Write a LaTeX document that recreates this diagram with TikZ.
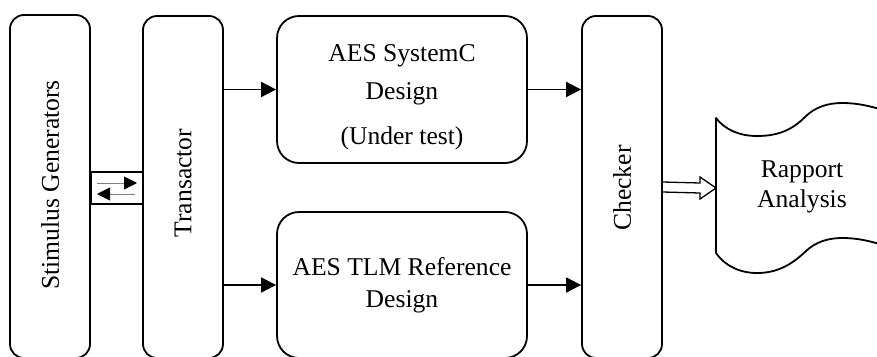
\documentclass[tikz,border=0pt]{standalone}
\usepackage{fontspec}
\setmainfont{Liberation Serif}
\usetikzlibrary{arrows.meta,calc}
\begin{document}
\begin{tikzpicture}[x=1pt,y=-1pt,
  blk/.style={draw,line width=1.8pt,rounded corners=14pt,inner sep=0pt},
  bigblk/.style={draw,line width=1.8pt,rounded corners=22pt,inner sep=0pt},
  lbl/.style={font=\fontsize{25.6}{30}\selectfont,align=center,inner sep=0pt},
  arr/.style={line width=1.8pt,-{Triangle[length=15pt,width=15pt]}},
  xarr/.style={line width=0.9pt,draw=gray,-{Triangle[length=13pt,width=13pt,color=black,fill=black]}}
]
\useasboundingbox (0,0) rectangle (877,356);
\clip (0,0) rectangle (877,356);

% tall blocks
\node[blk,minimum width=80pt,minimum height=343pt] (stim) at (50,186.5) {};
\node[lbl,rotate=90] (stimt) at (50,185) {Stimulus Generators};
\node[blk,minimum width=80pt,minimum height=342pt] (trans) at (183,187) {};
\node[lbl,rotate=90] (transt) at (183,183) {Transactor};
\node[blk,minimum width=80pt,minimum height=342pt] (chk) at (622,187) {};
\node[lbl,rotate=90] (chkt) at (622,188) {Checker};

% design blocks
\node[bigblk,minimum width=250pt,minimum height=147pt] (sysc) at (402,89.5) {};
\node[lbl,font=\fontsize{25.6}{38}\selectfont] (sysct) at (402,97) {AES SystemC\\Design\\[7pt](Under test)};
\node[bigblk,minimum width=250pt,minimum height=146pt] (tlm) at (402,285) {};
\node[lbl,font=\fontsize{25.6}{32}\selectfont] (tlmt) at (402,285) {AES TLM Reference\\Design};

% exchange box
\node[draw,line width=1.6pt,minimum width=52pt,minimum height=32pt,inner sep=0pt] (xbox) at (117,188) {};
\coordinate (xa1) at (97,183);
\coordinate (xa2) at (137,183);
\coordinate (xb1) at (135,194);
\coordinate (xb2) at (97,194);
\draw[xarr] (xa1) -- (xa2);
\draw[xarr] (xb1) -- (xb2);

% connectors
\draw[arr] (trans.east |- sysc.west) -- (sysc.west);
\draw[arr] (trans.east |- tlm.west) -- (tlm.west);
\draw[arr] (sysc.east) -- (sysc.east -| chk.west);
\draw[arr] (tlm.east) -- (tlm.east -| chk.west);

% report shape
\draw[line width=1.8pt,line join=round] (716,253) -- (716,118)
  .. controls (725,130) and (740,136) .. (757,136)
  .. controls (778,136) and (792,130) .. (805,117)
  .. controls (815,107) and (828,103) .. (842,103)
  .. controls (858,103) and (870,106) .. (890,112)
  -- (890,247)
  .. controls (870,241) and (858,238) .. (842,238)
  .. controls (828,238) and (815,242) .. (805,252)
  .. controls (792,264) and (778,273) .. (757,273)
  .. controls (740,273) and (725,266) .. (716,253) -- cycle;
\coordinate (rapin) at (716,188);
\node[lbl] (rap) at (802,187) {Rapport\\Analysis};

% hollow arrow
\draw[line width=1.3pt,line join=miter]
  ($(chk.east)+(0,-5)$) -- ($(rapin)+(-16,-5)$) -- ($(rapin)+(-16,-11)$) -- (rapin)
  -- ($(rapin)+(-16,11)$) -- ($(rapin)+(-16,5)$) -- ($(chk.east)+(0,5)$);
\end{tikzpicture}
\end{document}
